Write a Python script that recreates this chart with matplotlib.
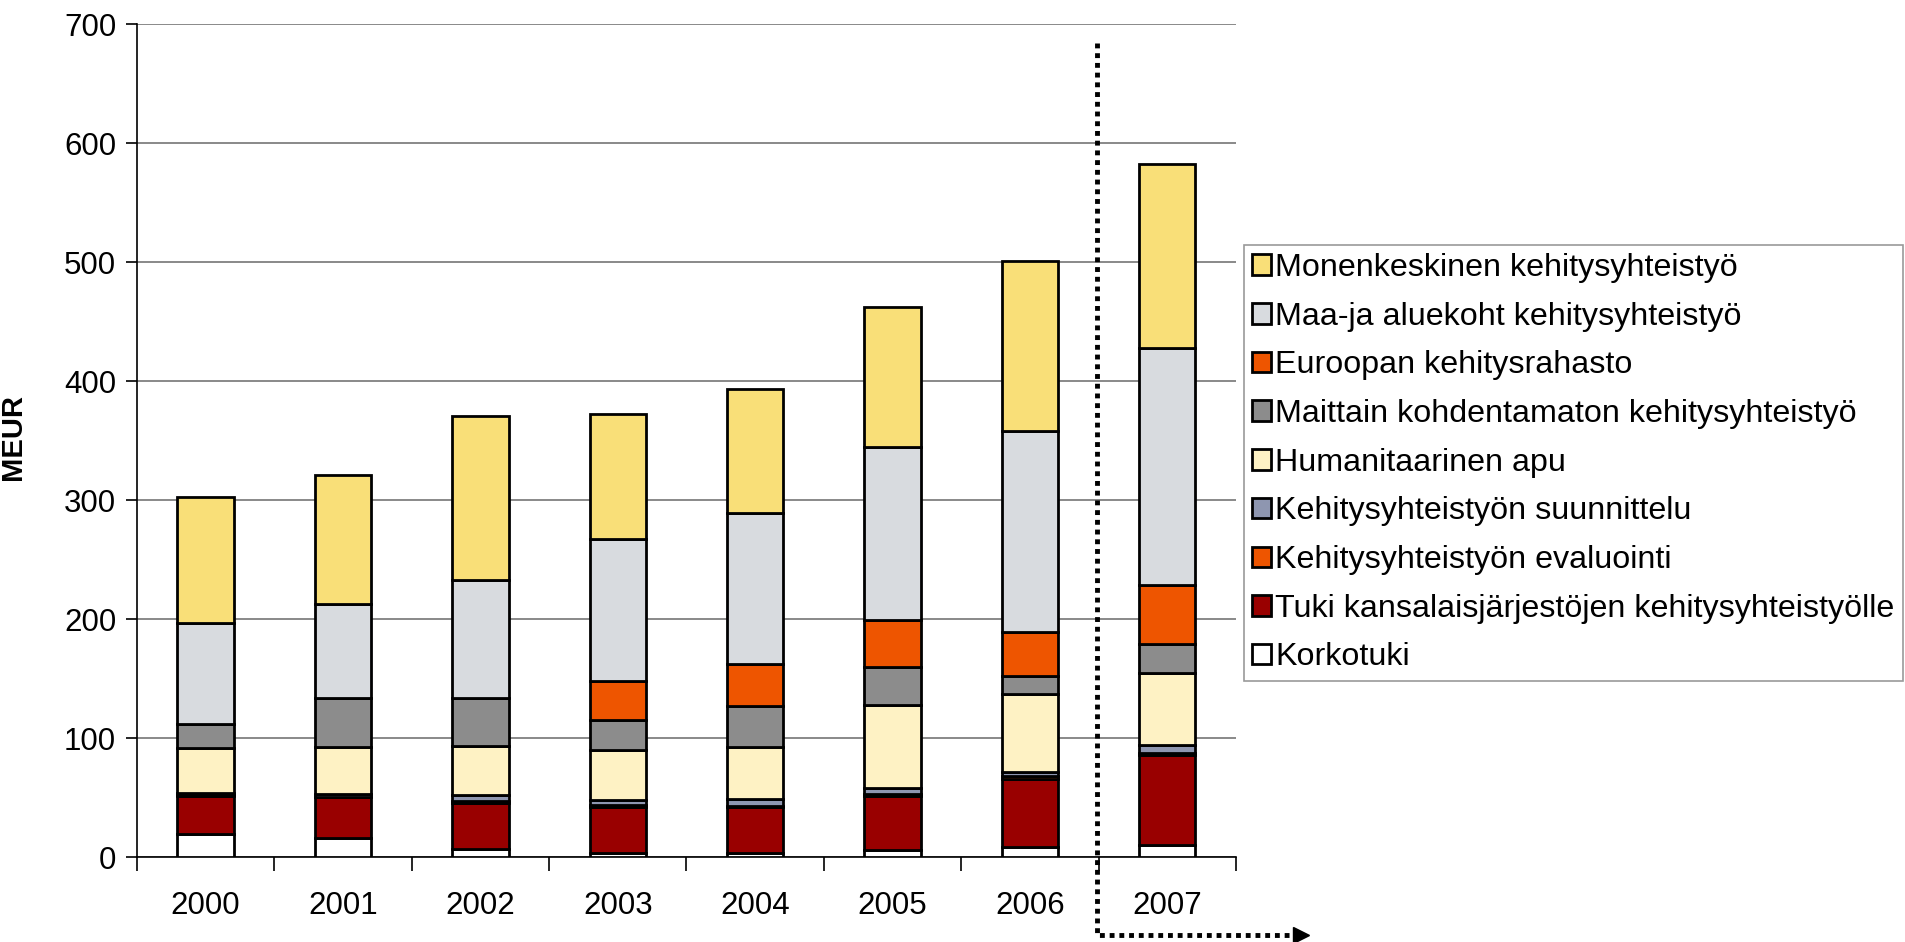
import numpy as np
import matplotlib
matplotlib.use("Agg")
import matplotlib.pyplot as plt

plt.rcParams["font.family"] = ["Liberation Sans", "DejaVu Sans"]

# ============================================================
# Data (MEUR), stacked bottom -> top
# ============================================================
years = ["2000", "2001", "2002", "2003", "2004", "2005", "2006", "2007"]

korkotuki   = [20, 16, 7, 4, 4, 6, 9, 10]
tuki_kj     = [31.5, 34.5, 39, 38.5, 38, 45.5, 57, 76]
evaluointi  = [0.5, 0.5, 1.5, 1.5, 1.5, 1.5, 2, 1.5]
suunnittelu = [2, 2.5, 4.5, 4, 5.5, 5, 4, 6.5]
humanit     = [38, 39, 41.5, 42, 44, 70, 65, 61]
maittain    = [20, 41.5, 40.5, 25.5, 34, 32, 15, 24]
ekr         = [0, 0, 0, 33, 35, 39, 37, 50]
maa_alue    = [85, 78.5, 99, 118.5, 127, 145.5, 169, 199]
monenk      = [106, 109, 138, 105, 104, 117.5, 143, 154]

series = [
    ("Korkotuki", korkotuki, "#FFFFFF"),
    ("Tuki kansalaisjärjestöjen kehitysyhteistyölle", tuki_kj, "#990000"),
    ("Kehitysyhteistyön evaluointi", evaluointi, "#EE5500"),
    ("Kehitysyhteistyön suunnittelu", suunnittelu, "#8E96B0"),
    ("Humanitaarinen apu", humanit, "#FEF2C4"),
    ("Maittain kohdentamaton kehitysyhteistyö", maittain, "#8C8C8C"),
    ("Euroopan kehitysrahasto", ekr, "#EE5500"),
    ("Maa-ja aluekoht kehitysyhteistyö", maa_alue, "#D8DBDF"),
    ("Monenkeskinen kehitysyhteistyö", monenk, "#F9DF78"),
]

# ============================================================
# Plot
# ============================================================
fig = plt.figure(figsize=(19.05, 9.42), dpi=100)
ax = fig.add_axes([0.0719, 0.0899, 0.5769, 0.8846])

x = np.arange(len(years))
bottom = np.zeros(len(years))
handles = []
for label, vals, color in series:
    vals = np.array(vals, dtype=float)
    b = ax.bar(x, vals, width=0.41, bottom=bottom, color=color,
               edgecolor="black", linewidth=2.0, label=label, zorder=3)
    handles.append(b)
    bottom += vals

ax.set_xlim(-0.5, 7.5)
ax.set_ylim(0, 700)
ax.set_yticks(np.arange(0, 701, 100))
ax.grid(axis="y", color="#808080", lw=1.3, zorder=0)

ax.set_xticks(x)
ax.set_xticklabels(years)
ax.set_xticks(np.arange(-0.5, 8.0, 1.0), minor=True)
ax.tick_params(axis="x", which="major", length=0, pad=24, labelsize=22.5)
ax.tick_params(axis="x", which="minor", length=10, width=1.2, direction="out")
ax.tick_params(axis="y", length=8, width=1.2, pad=7, labelsize=22.5)

for sp in ("top", "right"):
    ax.spines[sp].set_visible(False)
ax.spines["left"].set_linewidth(1.2)
ax.spines["bottom"].set_linewidth(1.2)

ax.set_ylabel("MEUR", fontsize=21, fontweight="bold")
ax.yaxis.set_label_coords(-0.100, 0.504)

# forecast divider with arrow
ax.plot([6.49, 6.49, 7.92], [684, -65, -65], color="black", lw=3.5,
        ls=(0, (1, 1)), dash_capstyle="butt", clip_on=False, zorder=5)
ax.plot([7.97], [-65], marker=">", ms=12, color="black", clip_on=False, zorder=5)

leg = fig.legend(handles[::-1], [s[0] for s in series][::-1],
                 loc="upper left", bbox_to_anchor=(0.653, 0.740),
                 fontsize=23.2, frameon=True, fancybox=False, shadow=False,
                 edgecolor="#808080", handlelength=0.6, handleheight=0.6,
                 handletextpad=0.12, labelspacing=0.58, borderpad=0.25,
                 borderaxespad=0)
leg.get_frame().set_linewidth(1.2)

fig.savefig("out.png", dpi=100)
